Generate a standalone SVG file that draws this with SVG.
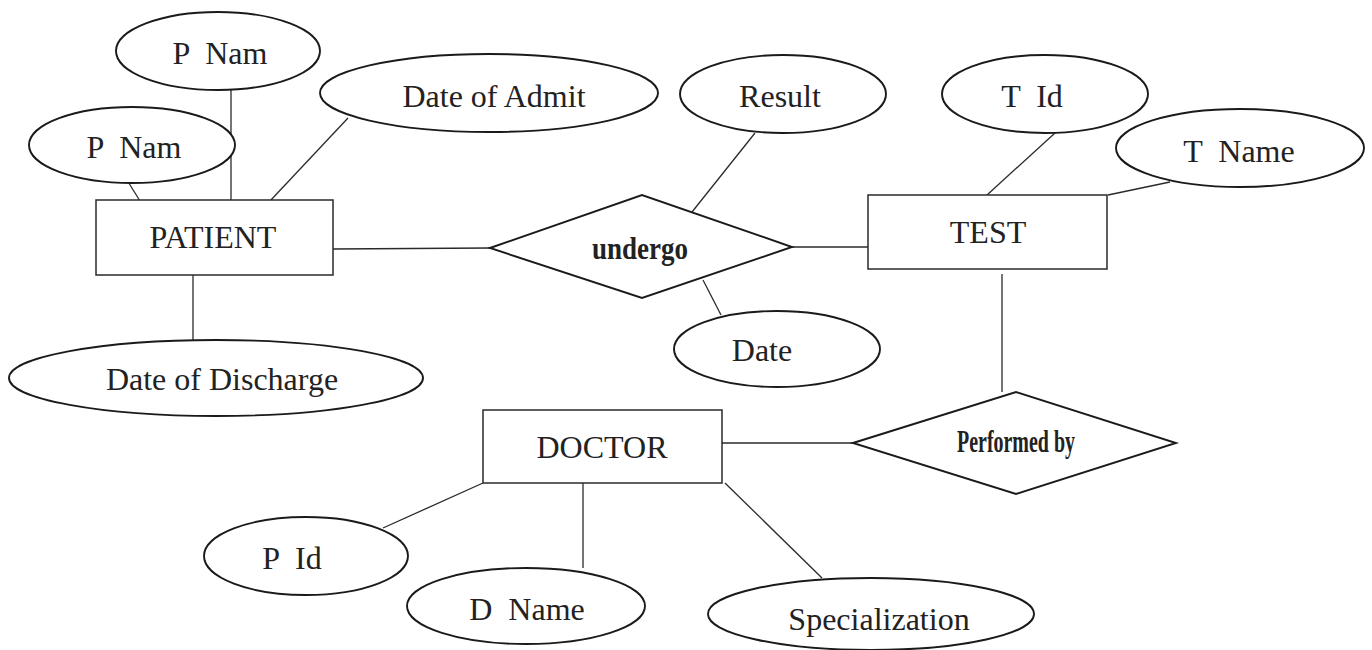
<svg xmlns="http://www.w3.org/2000/svg" width="1372" height="650" viewBox="0 0 1372 650">
<style>
.bg{fill:#ffffff}
.attr{fill:#ffffff;stroke:#1a1a1a;stroke-width:1.9}
.ent{fill:#ffffff;stroke:#2a2a2a;stroke-width:1.5}
.rel{fill:#ffffff;stroke:#1a1a1a;stroke-width:1.9}
.conn line{stroke:#2a2a2a;stroke-width:1.3}
text{font-family:"Liberation Serif","Times New Roman",serif;font-size:32px;fill:#222;text-anchor:middle;white-space:pre}
.rl{font-weight:bold}
</style>
<rect class="bg" x="0" y="0" width="1372" height="650"/>
<g id="connectors" class="conn">
<line x1="231" y1="90" x2="231" y2="200"/>
<line x1="122" y1="172" x2="140" y2="201"/>
<line x1="348" y1="118" x2="270" y2="201"/>
<line x1="193" y1="275" x2="193" y2="340"/>
<line x1="333" y1="249" x2="490" y2="248"/>
<line x1="755" y1="133" x2="692" y2="212"/>
<line x1="792" y1="247" x2="868" y2="247"/>
<line x1="703" y1="280" x2="721" y2="315"/>
<line x1="1055" y1="133" x2="987" y2="195"/>
<line x1="1170" y1="182" x2="1108" y2="195"/>
<line x1="1002" y1="274" x2="1002" y2="392"/>
<line x1="722" y1="443" x2="853" y2="443"/>
<line x1="483" y1="483" x2="383" y2="528"/>
<line x1="583" y1="483" x2="583" y2="568"/>
<line x1="725" y1="483" x2="822" y2="578"/>
</g>
<g id="pnam1"><ellipse class="attr" cx="218" cy="51" rx="102" ry="39"/><text x="220" y="64">P  Nam</text></g>
<g id="pnam2"><ellipse class="attr" cx="132" cy="145" rx="103" ry="38"/><text x="134" y="158">P  Nam</text></g>
<g id="dateofadmit"><ellipse class="attr" cx="489" cy="93" rx="169" ry="39"/><text x="494" y="107">Date of Admit</text></g>
<g id="result"><ellipse class="attr" cx="783" cy="94" rx="103" ry="39"/><text x="780" y="107">Result</text></g>
<g id="tid"><ellipse class="attr" cx="1045" cy="94" rx="103" ry="39"/><text x="1032" y="107">T  Id</text></g>
<g id="tname"><ellipse class="attr" cx="1240" cy="148" rx="124" ry="39"/><text x="1239" y="162">T  Name</text></g>
<g id="patient"><rect class="ent" x="96" y="200" width="237" height="75"/><text x="213" y="248">PATIENT</text></g>
<g id="undergo"><polygon class="rel" points="490,248 642,195 792,247 642,298"/><text class="rl" x="640" y="259" font-size="25" textLength="96" lengthAdjust="spacingAndGlyphs">undergo</text></g>
<g id="test"><rect class="ent" x="868" y="195" width="239" height="74"/><text x="988" y="243">TEST</text></g>
<g id="dateofdischarge"><ellipse class="attr" cx="216" cy="378" rx="207" ry="38"/><text x="222" y="390">Date of Discharge</text></g>
<g id="date"><ellipse class="attr" cx="777" cy="349" rx="103" ry="38"/><text x="762" y="361">Date</text></g>
<g id="doctor"><rect class="ent" x="483" y="410" width="239" height="73"/><text x="602" y="458">DOCTOR</text></g>
<g id="performedby"><polygon class="rel" points="853,443 1016,392 1176,443 1016,494"/><text class="rl" x="1016" y="452" font-size="20" textLength="118" lengthAdjust="spacingAndGlyphs">Performed by</text></g>
<g id="pid"><ellipse class="attr" cx="306" cy="556" rx="102" ry="39"/><text x="292" y="569">P  Id</text></g>
<g id="dname"><ellipse class="attr" cx="526" cy="606" rx="119" ry="38"/><text x="527" y="620">D  Name</text></g>
<g id="specialization"><ellipse class="attr" cx="871" cy="614" rx="163" ry="36"/><text x="879" y="630">Specialization</text></g>
</svg>
